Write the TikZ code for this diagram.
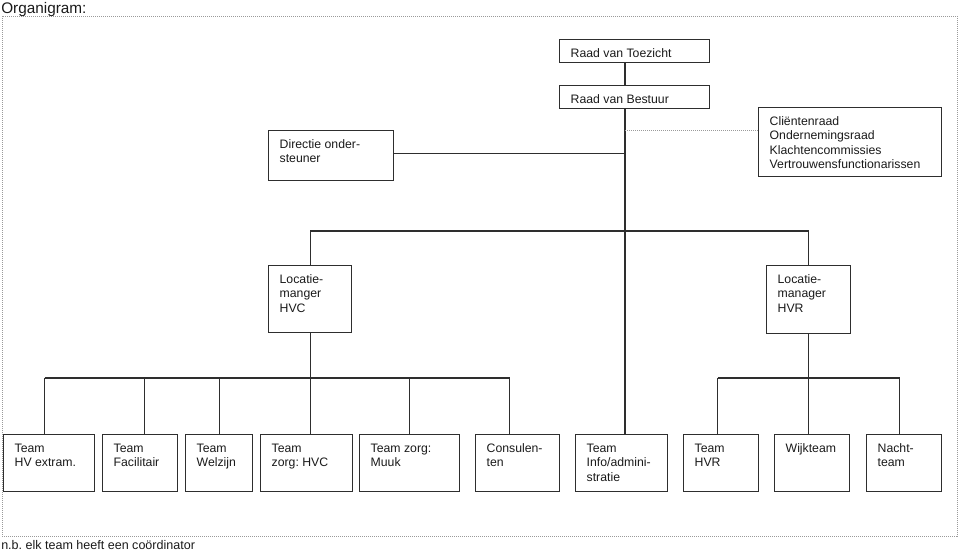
\documentclass[tikz,border=0pt]{standalone}
\usepackage{fontspec}
\setmainfont{Liberation Sans}
\frenchspacing
\usepackage{xcolor}
\definecolor{linedark}{HTML}{2E2E2E}
\definecolor{textdark}{HTML}{1A1A1A}
\definecolor{framegray}{HTML}{9A9A9A}
\usepackage{tikz}
\usetikzlibrary{positioning,calc}
\newdimen\unitpx \unitpx=0.75pt
\newcommand{\orgbox}[3]{\parbox[t][#2\unitpx][t]{#1\unitpx}{\raggedright\leftskip=11\unitpx\rule{0pt}{17.5\unitpx}#3}}

\begin{document}
\begin{tikzpicture}[x=0.75pt, y=-0.75pt,
    box/.style={draw=linedark, line width=1pt, anchor=north west, inner sep=0pt, text=textdark, font=\fontsize{9.2pt}{10.9pt}\selectfont},
    link/.style={draw=linedark, line width=1pt},
    dotlink/.style={draw=framegray, line width=0.75pt, dash pattern=on 0.75pt off 0.75pt},
    frame/.style={draw=framegray, line width=0.75pt, dash pattern=on 0.75pt off 0.75pt},
    caption/.style={anchor=base west, inner sep=0pt, text=textdark}]
        \useasboundingbox (0,0) rectangle (959,550);
        % Frame and captions
        \draw[frame] (2,16) rectangle (957,536);
        \node[caption, font=\fontsize{11.5pt}{13pt}\selectfont] (title) at (1,13) {Organigram:};
        \node[caption, font=\fontsize{9.4pt}{11pt}\selectfont] (nb) at (1,549) {n.b. elk team heeft een coördinator};

        % Top level
        \node[box] (rvt) at (559,39) {\orgbox{150}{23}{Raad van Toezicht}};
        \node[box] (rvb) at (559,85) {\orgbox{150}{23}{Raad van Bestuur}};
        \node[box] (raden) at (758,107) {\orgbox{183}{69}{Cliëntenraad\\Ondernemingsraad\\Klachtencommissies\\Vertrouwensfunctionarissen}};
        \node[box] (directie) at (268,130) {\orgbox{125}{50}{Directie onder-\\steuner}};

        % Locatiemanagers
        \node[box] (lochvc) at (268,265) {\orgbox{83}{67}{Locatie-\\manger\\HVC}};
        \node[box] (lochvr) at (766,265) {\orgbox{84}{68}{Locatie-\\manager\\HVR}};

        % Teams
        \node[box] (hvextram) at (3,434) {\orgbox{91}{57}{Team\\HV extram.}};
        \node[box] (facilitair) at (102,434) {\orgbox{75}{57}{Team\\Facilitair}};
        \node[box] (welzijn) at (185,434) {\orgbox{67}{57}{Team\\Welzijn}};
        \node[box] (zorghvc) at (260,434) {\orgbox{92}{57}{Team\\zorg: HVC}};
        \node[box] (muuk) at (359,434) {\orgbox{100}{57}{Team zorg:\\Muuk}};
        \node[box] (consulenten) at (475,434) {\orgbox{84}{57}{Consulen-\\ten}};
        \node[box] (info) at (575,434) {\orgbox{92}{57}{Team\\Info/admini-\\stratie}};
        \node[box] (hvr) at (683,434) {\orgbox{75}{57}{Team\\HVR}};
        \node[box] (wijk) at (774,434) {\orgbox{75}{57}{Wijkteam}};
        \node[box] (nacht) at (866,434) {\orgbox{75}{57}{Nacht-\\team}};

        % Connectors
        \coordinate (trunk) at (625,0);
        \coordinate (lbar) at (0,231);
        \coordinate (tbar) at (0,378);
        \coordinate (advies) at (625,130);
        \draw[link] (rvt.south -| trunk) -- (rvb.north -| trunk);
        \draw[link] (rvb.south -| trunk) -- (info.north -| trunk);
        \draw[link] ($(directie.east)+(0,-2)$) -- ($(directie.east -| trunk)+(0,-2)$);
        \draw[dotlink] (advies) -- (advies -| raden.west);
        \draw[link] (lochvc.north) -- (lochvc.north |- lbar) -- (lochvr.north |- lbar) -- (lochvr.north);
        \draw[link] (lochvc.south) -- (lochvc.south |- tbar);
        \draw[link] (lochvr.south) -- (lochvr.south |- tbar);
        \draw[link] ($(hvextram.north |- tbar)+(-4.5,0)$) -- ($(consulenten.north |- tbar)+(-8,0)$);
        \draw[link] ($(hvr.north |- tbar)+(-3.5,0)$) -- ($(nacht.north |- tbar)+(-4.5,0)$);
        \foreach \team/\dx in {hvextram/-4.5, facilitair/4.5, welzijn/0.5, zorghvc/4, muuk/0, consulenten/-8, hvr/-3.5, wijk/-3.5, nacht/-4.5}
          \draw[link] ($(\team.north)+(\dx,0)$) -- ($(\team.north |- tbar)+(\dx,0)$);
      \end{tikzpicture}
\end{document}
